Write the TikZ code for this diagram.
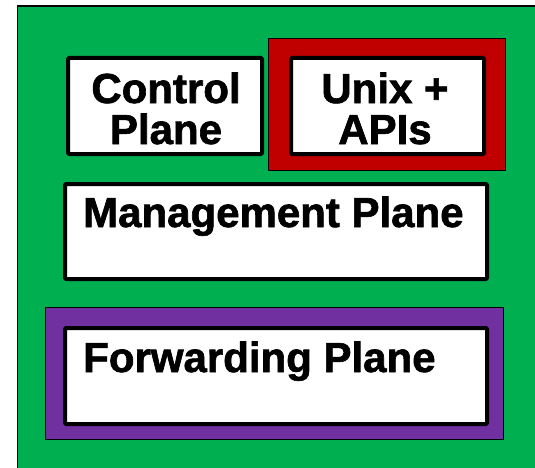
\documentclass[tikz,border=0pt]{standalone}
\usepackage{fontspec}
\setmainfont{Liberation Sans}
\newfontfamily\lblfont[FakeBold=1.5]{Liberation Sans Bold}
\definecolor{offgreen}{HTML}{00B050}
\definecolor{offred}{HTML}{C00000}
\definecolor{offpurple}{HTML}{7030A0}
\begin{document}
\begin{tikzpicture}[x=1pt,y=-1pt,
  planebox/.style={draw=black,fill=white,line width=4pt,line join=round,rounded corners=1pt,inner sep=0pt,anchor=north west},
  frame/.style={draw=black,line width=1.2pt,inner sep=0pt,anchor=north west},
  lbl/.style={font=\lblfont\fontsize{42}{41}\selectfont,align=center,inner sep=0pt,anchor=base}]
\useasboundingbox (0,0) rectangle (535,468);
\clip (0,0) rectangle (535,468);
\fill[white] (0,0) rectangle (535,468);
\node[frame,fill=offgreen,minimum width=530pt,minimum height=470pt] (outer) at (16.5,5.5) {};
\node[frame,fill=offred,minimum width=237pt,minimum height=132pt] (redframe) at (268,38) {};
\node[frame,fill=offpurple,minimum width=458pt,minimum height=132pt] (purpleframe) at (45,307) {};
\node[planebox,minimum width=194pt,minimum height=96pt] (control) at (66,56) {};
\node[planebox,minimum width=193pt,minimum height=96pt] (unix) at (289,56) {};
\node[planebox,minimum width=422pt,minimum height=95pt] (mgmt) at (63,182) {};
\node[planebox,minimum width=422pt,minimum height=96pt] (fwd) at (63,326) {};
\node[lbl] (controltext) at (166,144) {Control\\Plane};
\node[lbl] (unixtext) at (385,144) {Unix +\\APIs};
\node[lbl,anchor=base west] (mgmttext) at (83,227) {Management Plane};
\node[lbl,anchor=base west] (fwdtext) at (83,372) {Forwarding Plane};
\end{tikzpicture}
\end{document}
